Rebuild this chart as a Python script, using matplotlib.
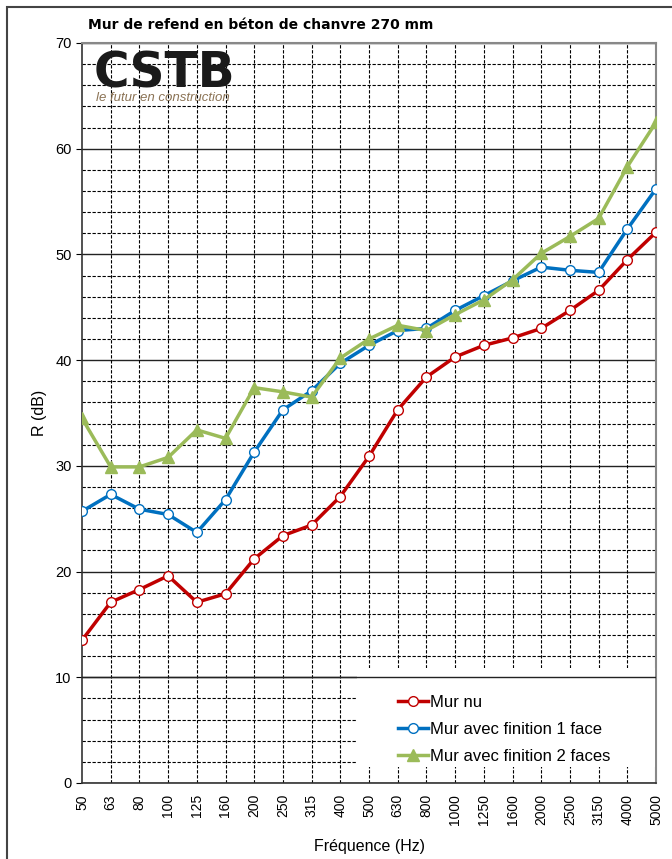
import matplotlib.pyplot as plt
from matplotlib.patches import Rectangle
import numpy as np

plt.rcParams['font.family'] = ['Liberation Sans', 'DejaVu Sans']

# bandes de tiers d'octave
freqs = ['50', '63', '80', '100', '125', '160', '200', '250', '315', '400', '500',
         '630', '800', '1000', '1250', '1600', '2000', '2500', '3150', '4000', '5000']

mur_nu = [13.5, 17.1, 18.3, 19.6, 17.1, 17.9, 21.2, 23.4, 24.4, 27.1, 30.9,
          35.3, 38.4, 40.3, 41.4, 42.1, 43.0, 44.7, 46.6, 49.5, 52.1]
finition_1 = [25.7, 27.3, 25.9, 25.4, 23.7, 26.8, 31.3, 35.3, 37.1, 39.7, 41.4,
              42.8, 43.0, 44.7, 46.1, 47.5, 48.8, 48.5, 48.3, 52.4, 56.2]
finition_2 = [34.5, 29.9, 29.9, 30.8, 33.4, 32.6, 37.4, 37.0, 36.5, 40.2, 42.0,
              43.3, 42.8, 44.3, 45.7, 47.6, 50.1, 51.7, 53.4, 58.3, 62.5]

fig = plt.figure(figsize=(6.72, 8.59), dpi=100)
ax = fig.add_axes([82 / 672, 1 - 783 / 859, 574 / 672, 740 / 859])

# cadre exterieur
fig.patches.append(Rectangle((7 / 672, -0.01), 1.0, 1 - 7 / 859 + 0.01,
                             transform=fig.transFigure, fill=False,
                             edgecolor='#444444', linewidth=1.5))

x = np.arange(len(freqs))

# grille
for v in range(0, 71, 2):
    if v % 10 == 0:
        ax.axhline(v, color='#222222', linewidth=1.0, zorder=1)
    else:
        ax.axhline(v, color='black', linewidth=0.8, linestyle=(0, (3, 1.5)), zorder=1)
for xi in x[1:-1]:
    ax.axvline(xi, color='black', linewidth=0.8, linestyle=(0, (3, 1.5)), zorder=1)

# fond blanc de la legende (comme dans Excel)
ax.add_patch(Rectangle((0.479, 0.0215), 0.52, 0.134, transform=ax.transAxes,
                       facecolor='white', edgecolor='none', zorder=5))
ax.axhline(10, color='#222222', linewidth=1.0, zorder=5.5)

ax.plot(x, mur_nu, color='#c00000', linewidth=2.5, marker='o', markersize=7,
        markerfacecolor='white', markeredgecolor='#c00000', markeredgewidth=1.0,
        label='Mur nu', zorder=3)
ax.plot(x, finition_1, color='#0070c0', linewidth=2.5, marker='o', markersize=7,
        markerfacecolor='white', markeredgecolor='#0070c0', markeredgewidth=1.0,
        label='Mur avec finition 1 face', zorder=3)
ax.plot(x, finition_2, color='#9bbb59', linewidth=2.5, marker='^', markersize=8,
        markerfacecolor='#9bbb59', markeredgecolor='#9bbb59',
        label='Mur avec finition 2 faces', zorder=4)

ax.set_xlim(0, len(freqs) - 1)
ax.set_ylim(0, 70)
ax.set_yticks(range(0, 71, 10))
ax.set_xticks(x)
ax.set_xticklabels(freqs, rotation=90, fontsize=10)
ax.tick_params(axis='y', labelsize=10.5, length=4, direction='out')
ax.tick_params(axis='x', length=0, pad=8)

for s in ['top', 'right']:
    ax.spines[s].set_color('#888888')
    ax.spines[s].set_linewidth(1.5)
for s in ['left', 'bottom']:
    ax.spines[s].set_color('#333333')
    ax.spines[s].set_linewidth(1.2)

ax.set_ylabel('R (dB)', fontsize=11.5, labelpad=6)
ax.set_xlabel('Fréquence (Hz)', fontsize=11.5, labelpad=10)

leg = ax.legend(loc='upper left', bbox_to_anchor=(0.5505, 0.119), fontsize=12,
                frameon=False, handlelength=1.8, handletextpad=0.15,
                labelspacing=0.72, borderpad=0, borderaxespad=0)
leg.set_zorder(6)

fig.text(88 / 672, 1 - 25 / 859, 'Mur de refend en béton de chanvre 270 mm',
         fontsize=10, fontweight='bold', family='DejaVu Sans', va='center')

# logo CSTB
fig.text(94 / 672, 1 - 87 / 859, 'CSTB', fontsize=35, fontweight='heavy',
         family='DejaVu Sans', color='#1a1a1a', va='baseline')
fig.text(96 / 672, 1 - 98 / 859, 'le futur en construction', fontsize=9.5,
         style='italic', color='#8b7355', va='center')

fig.savefig('out.png', dpi=100)
